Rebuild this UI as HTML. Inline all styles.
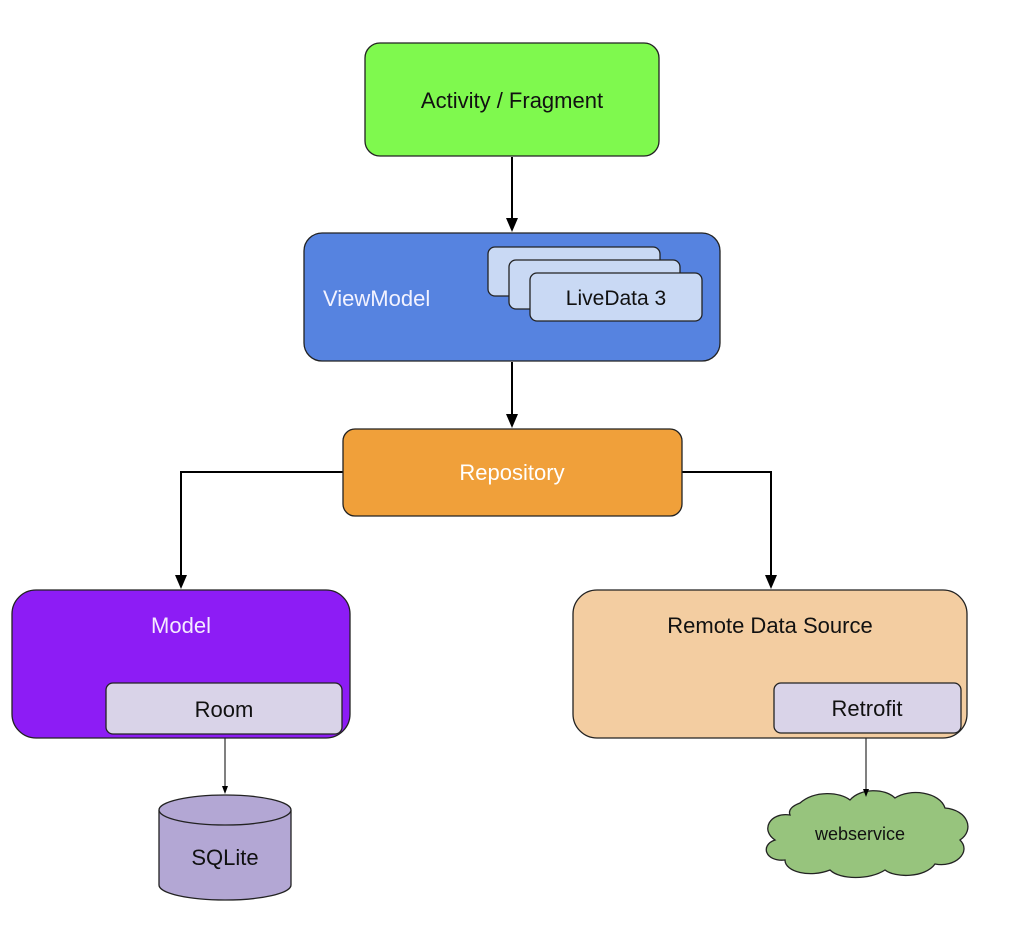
<!DOCTYPE html>
<html><head><meta charset="utf-8"><style>body{margin:0;background:#fff}svg{display:block}text{font-family:"Liberation Sans",Arial,sans-serif}</style></head>
<body>
<svg width="1012" height="926" viewBox="0 0 1012 926" xmlns="http://www.w3.org/2000/svg">
<g stroke="#000" stroke-width="2" fill="none">
<line x1="512" y1="157" x2="512" y2="222"/>
<line x1="512" y1="362" x2="512" y2="418"/>
<polyline points="343,472 181,472 181,578"/>
<polyline points="682,472 771,472 771,578"/>
</g>
<g stroke="#000" stroke-width="1" fill="none">
<line x1="225" y1="734" x2="225" y2="788"/>
<line x1="866" y1="733" x2="866" y2="790"/>
</g>
<g stroke="#222" stroke-width="1.3">
<rect x="365" y="43" width="294" height="113" rx="15" fill="#7ff94e"/>
<rect x="304" y="233" width="416" height="128" rx="18" fill="#5683e0"/>
<rect x="488" y="247" width="172" height="49" rx="7" fill="#c9d9f4"/>
<rect x="509" y="260" width="171" height="49" rx="7" fill="#c9d9f4"/>
<rect x="530" y="273" width="172" height="48" rx="7" fill="#c9d9f4"/>
<rect x="343" y="429" width="339" height="87" rx="12" fill="#f0a03a"/>
<rect x="12" y="590" width="338" height="148" rx="24" fill="#8d1cf5"/>
<rect x="106" y="683" width="236" height="51" rx="7" fill="#d9d3e8"/>
<rect x="573" y="590" width="394" height="148" rx="24" fill="#f3cda1"/>
<rect x="774" y="683" width="187" height="50" rx="7" fill="#d9d3e8"/>
<path d="M159,810 L159,885 A66,15 0 0 0 291,885 L291,810" fill="#b3a7d4"/>
<ellipse cx="225" cy="810" rx="66" ry="15" fill="#b3a7d4"/>
<path d="M800,803 C815,790 840,792 850,800 C860,788 885,788 895,798 C910,788 940,792 945,808 C968,810 975,830 960,840 C972,852 955,868 935,864 C925,878 895,878 885,870 C870,880 840,880 830,870 C810,878 785,872 785,860 C765,862 760,845 775,840 C760,830 770,812 790,815 C788,810 792,806 800,803 z" fill="#97c47d"/>
</g>
<g fill="#000">
<path d="M506,218 L518,218 L512,232 z"/>
<path d="M506,414 L518,414 L512,428 z"/>
<path d="M175,575 L187,575 L181,589 z"/>
<path d="M765,575 L777,575 L771,589 z"/>
<path d="M222,786 L228,786 L225,794 z"/>
<path d="M863,789 L869,789 L866,797 z"/>
</g>
<text x="512" y="108" font-size="22" text-anchor="middle" fill="#111">Activity / Fragment</text>
<text x="323" y="306" font-size="22" fill="#f2f2ff">ViewModel</text>
<text x="616" y="305" font-size="21" text-anchor="middle" fill="#111">LiveData 3</text>
<text x="512" y="480" font-size="22" text-anchor="middle" fill="#fff">Repository</text>
<text x="181" y="633" font-size="22" text-anchor="middle" fill="#f4eaff">Model</text>
<text x="224" y="717" font-size="22" text-anchor="middle" fill="#111">Room</text>
<text x="770" y="633" font-size="22" text-anchor="middle" fill="#111">Remote Data Source</text>
<text x="867" y="716" font-size="22" text-anchor="middle" fill="#111">Retrofit</text>
<text x="225" y="865" font-size="22" text-anchor="middle" fill="#111">SQLite</text>
<text x="860" y="840" font-size="18" text-anchor="middle" fill="#111">webservice</text>
</svg>
</body></html>
